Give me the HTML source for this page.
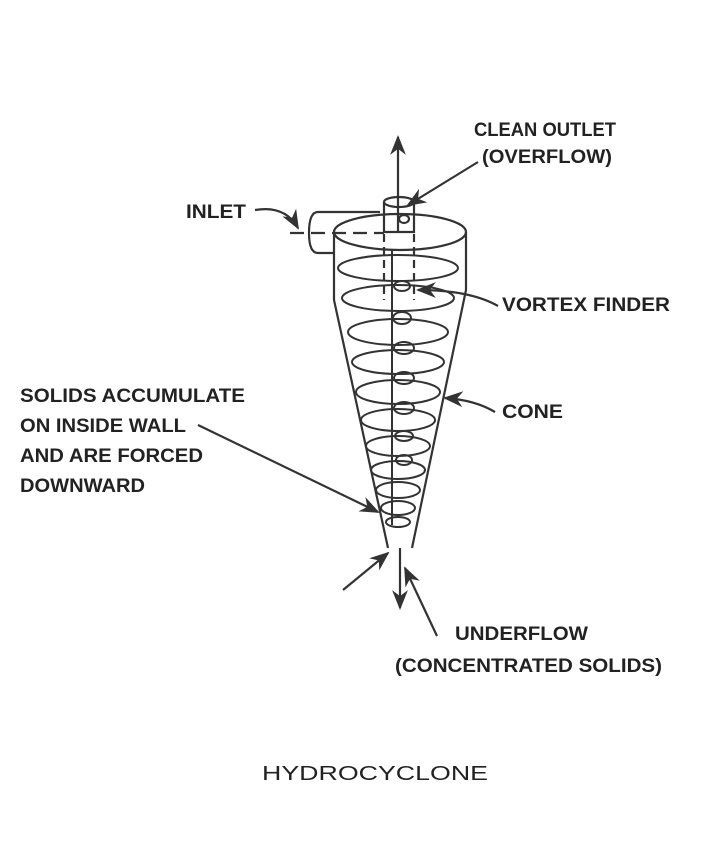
<!DOCTYPE html>
<html><head><style>
body{margin:0;background:#fff;}
svg text{font-family:"Liberation Sans",sans-serif;fill:#222;font-weight:bold;}
svg text.n{font-weight:normal;}
</style></head><body>
<svg width="720" height="850" viewBox="0 0 720 850" xmlns="http://www.w3.org/2000/svg">
<defs>
<marker id="a" viewBox="0 0 10 10" refX="9" refY="5" markerWidth="9" markerHeight="9" orient="auto-start-reverse"><path d="M0,1 L10,5 L0,9 L3,5z" fill="#333"/></marker>
</defs>
<g stroke="#333" stroke-width="2.2" fill="none">
<path d="M380,212 L318,212 Q309,212 309,233 Q309,253 318,253 L335,253"/>
<ellipse cx="400" cy="232" rx="66" ry="18"/>
<path d="M334,232 L334,300 L388,548 M466,232 L466,290 L412,548"/>
<path d="M384,202 L384,232 L414,232 L414,202"/>
<ellipse cx="399" cy="202" rx="15" ry="5"/>
<ellipse cx="404" cy="219" rx="5" ry="4"/>
<path d="M384,234 L384,300 M414,234 L414,300" stroke-dasharray="8,5"/>
<path d="M290,233 L384,233" stroke-dasharray="14,7"/>
<g stroke-width="2">
<ellipse cx="398" cy="268" rx="60" ry="13"/>
<ellipse cx="398" cy="298" rx="56" ry="13"/>
<ellipse cx="398" cy="332" rx="50" ry="13"/>
<ellipse cx="398" cy="362" rx="46" ry="12"/>
<ellipse cx="398" cy="392" rx="42" ry="12"/>
<ellipse cx="398" cy="420" rx="37" ry="11"/>
<ellipse cx="398" cy="446" rx="32" ry="10"/>
<ellipse cx="398" cy="470" rx="27" ry="9"/>
<ellipse cx="398" cy="490" rx="22" ry="8"/>
<ellipse cx="398" cy="508" rx="17" ry="7"/>
<ellipse cx="398" cy="522" rx="12" ry="5"/>
<ellipse cx="402" cy="286" rx="8" ry="5"/>
<ellipse cx="402" cy="318" rx="9" ry="6"/>
<ellipse cx="404" cy="348" rx="10" ry="6"/>
<ellipse cx="404" cy="378" rx="10" ry="6"/>
<ellipse cx="404" cy="408" rx="10" ry="6"/>
<ellipse cx="404" cy="436" rx="9" ry="5"/>
<ellipse cx="404" cy="460" rx="8" ry="5"/>
<path d="M392,525 L392,250"/>
</g>
<path d="M398,232 L398,137" marker-end="url(#a)"/>
<path d="M478,162 L408,205" marker-end="url(#a)"/>
<path d="M255,210 Q285,205 298,228" marker-end="url(#a)"/>
<path d="M498,306 Q470,290 418,290" marker-end="url(#a)"/>
<path d="M495,412 Q475,400 445,398" marker-end="url(#a)"/>
<path d="M198,425 L378,512" marker-end="url(#a)"/>
<path d="M343,590 L388,553" marker-end="url(#a)"/>
<path d="M400,548 L400,608" marker-end="url(#a)"/>
<path d="M437,636 L405,568" marker-end="url(#a)"/>
</g>
<g font-size="19">
<text x="474" y="136" textLength="142" lengthAdjust="spacingAndGlyphs">CLEAN OUTLET</text>
<text x="482" y="163" textLength="130" lengthAdjust="spacingAndGlyphs">(OVERFLOW)</text>
<text x="186" y="218" textLength="60" lengthAdjust="spacingAndGlyphs">INLET</text>
<text x="502" y="311" textLength="168" lengthAdjust="spacingAndGlyphs">VORTEX FINDER</text>
<text x="502" y="418" textLength="61" lengthAdjust="spacingAndGlyphs">CONE</text>
<text x="20" y="402" textLength="225" lengthAdjust="spacingAndGlyphs">SOLIDS ACCUMULATE</text>
<text x="20" y="432" textLength="166" lengthAdjust="spacingAndGlyphs">ON INSIDE WALL</text>
<text x="20" y="462" textLength="183" lengthAdjust="spacingAndGlyphs">AND ARE FORCED</text>
<text x="20" y="492" textLength="125" lengthAdjust="spacingAndGlyphs">DOWNWARD</text>
<text x="455" y="640" textLength="133" lengthAdjust="spacingAndGlyphs">UNDERFLOW</text>
<text x="395" y="672" textLength="267" lengthAdjust="spacingAndGlyphs">(CONCENTRATED SOLIDS)</text>
<text class="n" x="262" y="780" font-size="20" textLength="226" lengthAdjust="spacingAndGlyphs">HYDROCYCLONE</text>
</g>
</svg>
</body></html>
